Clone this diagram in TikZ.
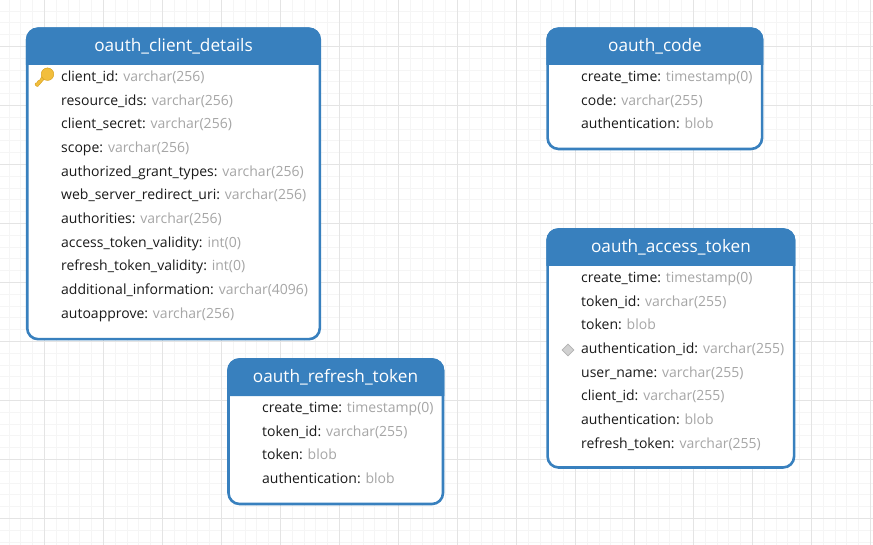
\documentclass[tikz,border=0pt]{standalone}
\usepackage{fontspec}
\usetikzlibrary{shapes.geometric}
\setmainfont{Open Sans}
\definecolor{tblue}{HTML}{3880BE}
\definecolor{typegrey}{HTML}{A6A6A6}
\definecolor{namecol}{HTML}{1A1A1A}
\definecolor{gridmajor}{HTML}{E4E4E4}
\definecolor{gridminor}{HTML}{F5F5F5}
\definecolor{keygold}{HTML}{F2BE3C}
\definecolor{keyedge}{HTML}{D9A21F}
\tikzset{
  tablebox/.style={draw=tblue,line width=2.6pt,fill=white,rounded corners=11pt,anchor=north west,inner sep=0pt,outer sep=0pt},
  headerfill/.style={fill=tblue},
  titletext/.style={text=white,font=\fontsize{17.2}{20}\selectfont,anchor=center,inner sep=0pt},
  fieldtext/.style={text=namecol,font=\fontsize{14}{17}\selectfont,anchor=base west,inner sep=0pt},
  gridminorline/.style={draw=gridminor,line width=1pt},
  gridmajorline/.style={draw=gridmajor,line width=1pt}
}
\newcommand{\fieldrow}[5]{\node[fieldtext] (#1) at (#2,#3+0.6) {#4: \textcolor{typegrey}{#5}};}
\begin{document}
\begin{tikzpicture}[x=1pt,y=-1pt]
\useasboundingbox (0,0) rectangle (873,545);
\fill[white] (0,0) rectangle (873,545);
% grid
\foreach \k in {-3,...,70} {
  \draw[gridminorline] ({44.5+11.8*\k},0) -- ({44.5+11.8*\k},545);
  \draw[gridminorline] (0,{46.5+11.8*\k}) -- (873,{46.5+11.8*\k});
}
\foreach \k in {0,...,14} \draw[gridmajorline] ({44.5+59*\k},0) -- ({44.5+59*\k},545);
\foreach \k in {0,...,8} \draw[gridmajorline] (0,{46.5+59*\k}) -- (873,{46.5+59*\k});
% oauth_client_details
\node[tablebox,minimum width=292.6pt,minimum height=310.5pt] (clientbox) at (27.2,28.7) {};
\fill[headerfill] (25.9,65) [rounded corners=12pt] -- (25.9,27.4) -- (320.8,27.4) [sharp corners] -- (320.8,65) -- cycle;
\node[titletext] (clienttitle) at (173.5,46.4) {oauth\_client\_details};
\fieldrow{c1}{61}{81}{client\_id}{varchar(256)}
\fieldrow{c2}{61}{104.6}{resource\_ids}{varchar(256)}
\fieldrow{c3}{61}{128.2}{client\_secret}{varchar(256)}
\fieldrow{c4}{61}{152}{scope}{varchar(256)}
\fieldrow{c5}{61}{175.7}{authorized\_grant\_types}{varchar(256)}
\fieldrow{c6}{61}{199.3}{web\_server\_redirect\_uri}{varchar(256)}
\fieldrow{c7}{61}{223}{authorities}{varchar(256)}
\fieldrow{c8}{61}{246.7}{access\_token\_validity}{int(0)}
\fieldrow{c9}{61}{270.3}{refresh\_token\_validity}{int(0)}
\fieldrow{c10}{61}{294}{additional\_information}{varchar(4096)}
\fieldrow{c11}{61}{317.6}{autoapprove}{varchar(256)}
% key icon
\fill[keygold,draw=keyedge,line width=.5pt,rounded corners=.6pt]
  (46,77) -- (37.5,86.8) -- (35,84.8) -- (35.6,82.8) -- (37.4,82.8) -- (37.6,80.8) -- (39.6,80.4) -- (43,74.5) -- cycle;
\node[circle,fill=keygold,draw=keyedge,line width=.5pt,minimum size=12.5pt,inner sep=0pt] (keyhead) at (47.5,74.2) {};
% oauth_code
\node[tablebox,minimum width=214.5pt,minimum height=120.3pt] (codebox) at (547.6,28.7) {};
\fill[headerfill] (546.3,65) [rounded corners=12pt] -- (546.3,27.4) -- (763.4,27.4) [sharp corners] -- (763.4,65) -- cycle;
\node[titletext] (codetitle) at (655,46.4) {oauth\_code};
\fieldrow{o1}{581}{81}{create\_time}{timestamp(0)}
\fieldrow{o2}{581}{104.6}{code}{varchar(255)}
\fieldrow{o3}{581}{128.2}{authentication}{blob}
% oauth_access_token
\node[tablebox,minimum width=246.5pt,minimum height=238pt] (accessbox) at (547.6,229.5) {};
\fill[headerfill] (546.3,266) [rounded corners=12pt] -- (546.3,228.2) -- (795.4,228.2) [sharp corners] -- (795.4,266) -- cycle;
\node[titletext] (accesstitle) at (671,247.4) {oauth\_access\_token};
\fieldrow{a1}{581}{282}{create\_time}{timestamp(0)}
\fieldrow{a2}{581}{305.6}{token\_id}{varchar(255)}
\fieldrow{a3}{581}{329.2}{token}{blob}
\fieldrow{a4}{581}{353}{authentication\_id}{varchar(255)}
\fieldrow{a5}{581}{376.6}{user\_name}{varchar(255)}
\fieldrow{a6}{581}{400.2}{client\_id}{varchar(255)}
\fieldrow{a7}{581}{424}{authentication}{blob}
\fieldrow{a8}{581}{447.6}{refresh\_token}{varchar(255)}
\node[diamond,fill=black!18,draw=black!30,line width=.8pt,minimum size=12pt,inner sep=0pt] (idxmark) at (568,350) {};
% oauth_refresh_token
\node[tablebox,minimum width=214.5pt,minimum height=144.5pt] (refreshbox) at (228.5,359.5) {};
\fill[headerfill] (227.2,396) [rounded corners=12pt] -- (227.2,358.2) -- (444.3,358.2) [sharp corners] -- (444.3,396) -- cycle;
\node[titletext] (refreshtitle) at (335.5,377.4) {oauth\_refresh\_token};
\fieldrow{r1}{262}{412}{create\_time}{timestamp(0)}
\fieldrow{r2}{262}{435.6}{token\_id}{varchar(255)}
\fieldrow{r3}{262}{459.2}{token}{blob}
\fieldrow{r4}{262}{483}{authentication}{blob}
\end{tikzpicture}
\end{document}
